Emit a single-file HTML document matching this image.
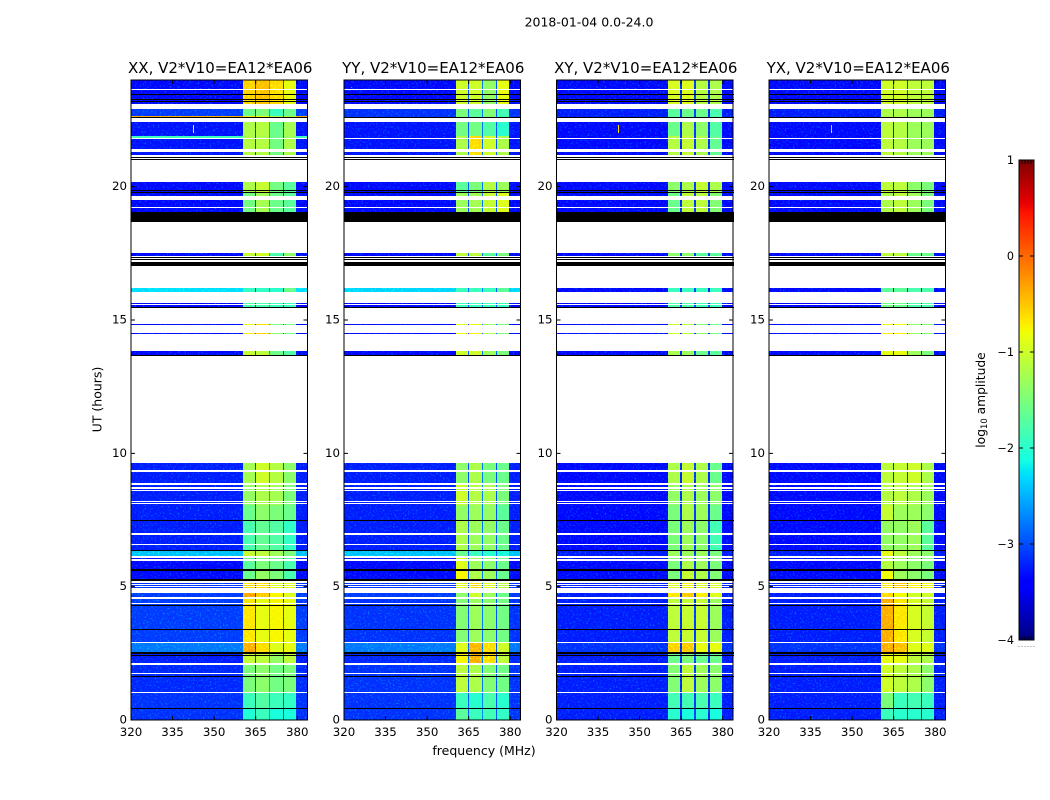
<!DOCTYPE html>
<html lang="en">
<head>
<meta charset="utf-8">
<title>2018-01-04 0.0-24.0</title>
<style>
html,body{margin:0;padding:0;background:#fff;}
#chart{display:block;width:1050px;height:800px;}
text{font-family:"DejaVu Sans","Liberation Sans",sans-serif;fill:#000;}
</style>
</head>
<body>
<svg id="chart" xmlns="http://www.w3.org/2000/svg" width="1050" height="800" viewBox="0 0 1050 800">
  <defs>
    <filter id="speckle" x="0" y="0" width="1" height="1" color-interpolation-filters="sRGB">
      <feTurbulence type="fractalNoise" baseFrequency="0.6" numOctaves="1" seed="7" result="n"/>
      <feColorMatrix in="n" type="matrix" values="0 0 0 0 0  2.6 0 0 0 -1.4  0 0 0 0 0  0 0 0 0 1" result="g"/>
      <feComposite in="SourceGraphic" in2="g" operator="arithmetic" k1="0" k2="1" k3="0.5" k4="0" result="mix"/>
      <feComposite in="mix" in2="SourceAlpha" operator="in"/>
    </filter>
  </defs>
  <text x="589" y="26.5" font-size="12.5" text-anchor="middle">2018-01-04 0.0-24.0</text>
  <text x="484" y="755" font-size="12.5" text-anchor="middle">frequency (MHz)</text>
  <text transform="translate(101.5,399.5) rotate(-90)" font-size="12.5" text-anchor="middle">UT (hours)</text>
  <text transform="translate(985,400) rotate(-90)" font-size="12.3" text-anchor="middle">log<tspan font-size="8.4" dy="2">10</tspan><tspan dy="-2"> amplitude</tspan></text>
  <g id="panels"></g>
  <g id="colorbar"></g>
</svg>
<script>
// ---------- data ----------
const panelTitles = ['XX, V2*V10=EA12*EA06','YY, V2*V10=EA12*EA06','XY, V2*V10=EA12*EA06','YX, V2*V10=EA12*EA06'];
const freqTicks = [320,335,350,365,380];
const utTicks = [0,5,10,15,20];
const colorTicks = [1,0,-1,-2,-3,-4];

// frequency channel groups (MHz): background, four bright sub-bands and the gaps between them
const freqEdges = [320,360.4,364.7,365.2,369.8,370.3,374.8,375.3,379.6,383.7];
// what each group above shows: index into a level row (0-3 sub-band, 4 background) or gap number (5-7)
const freqKinds = [4,0,5,1,6,2,7,3,4];

// UT spans with valid data
const dataSpans = [[0,1.02],[1.06,1.73],[1.77,2.07],[2.12,2.89],[2.94,4.35],[4.39,4.54],[4.61,4.76],[4.95,4.99],[5.03,5.06],[5.10,5.14],[5.21,5.98],[6.02,6.06],[6.15,6.56],[6.6,6.94],[7.0,7.11],[7.14,8.1],[8.14,8.18],[8.21,8.46],[8.49,8.59],[8.63,8.66],[8.72,8.83],[8.89,9.3],[9.38,9.63],[13.66,13.84],[14.48,14.51],[14.81,14.85],[15.45,15.55],[15.6,15.64],[16.04,16.21],[17.4,17.52],[18.69,19.2],[19.24,19.5],[19.65,20.18],[21.19,21.29],[21.42,21.79],[21.84,22.43],[22.58,22.91],[23.1,23.61],[23.66,24]];
// UT spans flagged (drawn black)
const flaggedSpans = [[0.41,0.45],[1.61,1.65],[2.4,2.44],[2.48,2.51],[2.53,2.56],[3.38,3.41],[4.28,4.31],[5.21,5.29],[5.6,5.65],[6.34,6.38],[7.46,7.5],[13.65,13.69],[15.45,15.5],[17.04,17.13],[17.16,17.19],[17.25,17.27],[17.33,17.37],[18.69,19.06],[19.76,19.8],[19.85,19.89],[21.02,21.05],[21.1,21.13],[22.58,22.61],[23.18,23.21],[23.25,23.28],[23.46,23.49]];

// UT zone boundaries for the level tables (30 zones)
const zoneEdges = [0,.45,1.05,2.1,2.55,2.92,4.54,4.76,5.21,5.63,6.15,6.37,7.5,8.06,8.85,9.8,14.2,14.7,15.2,15.8,16.6,17.8,19.75,20.6,21.84,21.9,22.45,22.61,22.65,23,24];

// log10 amplitude per zone: [band A, band B, band C, band D, background]
const levelsXX = [[-2.05,-1.9,-2.1,-2.1,-3.15],[-1.9,-1.75,-1.9,-1.95,-3.15],[-1.5,-1.4,-1.55,-1.5,-3.2],[-1.05,-1.1,-1.35,-1.1,-3.25],[-.35,-.6,-.9,-.85,-2.8],[-.65,-.85,-.75,-.85,-3.1],[-.3,-.5,-.75,-.9,-3.1],[-.6,-.6,-.9,-.9,-3.15],[-1.6,-1.35,-1.5,-1.8,-3.35],[-1.7,-1.5,-1.6,-1.8,-3.35],[-1.05,-1.1,-1.3,-1.5,-2.45],[-1.8,-1.65,-1.75,-1.95,-3.25],[-1.6,-1.4,-1.5,-1.6,-3.25],[-1.35,-1.2,-1.25,-1.5,-3.25],[-1.25,-1,-1.15,-1.4,-3.25],[-1.05,-1.1,-1.6,-1.75,-3.35],[-.6,-.5,-1.4,-1.6,-3.35],[-.8,-.6,-1.5,-1.6,-3.35],[-1.8,-1.8,-1.9,-1.9,-3.45],[-1.95,-1.95,-2,-1.6,-2.3],[-1.05,-1,-1.8,-1.4,-3.35],[-1.55,-1.25,-1.6,-1.7,-3.35],[-1.2,-1.05,-1.55,-1.7,-3.35],[-1.15,-1.15,-1.55,-1.2,-3.3],[-1.2,-1.2,-1.6,-1.3,-1.9],[-1.2,-1.15,-1.6,-1.25,-3.3],[-1.6,-1.5,-1.9,-1.6,-3.1],[-.7,-.8,-1.2,-1.2,-.3],[-1.6,-1.5,-1.9,-1.6,-3.1],[-.55,-.45,-.6,-.85,-3.35]];
const levelsYY = [[-1.7,-1.9,-1.85,-1.95,-3.15],[-1.9,-2,-1.8,-2,-3.15],[-1.1,-1.2,-1.45,-1.55,-3.15],[-.75,-.35,-.6,-1.1,-3.2],[-.9,-.4,-.6,-1,-2.8],[-1.45,-1.3,-1.4,-1.55,-3.15],[-1.4,-1,-1.3,-1.6,-3.1],[-.9,-.6,-.9,-1.1,-3.15],[-.75,-1.2,-1.3,-1.6,-3.35],[-.9,-1.3,-1.4,-1.6,-3.35],[-1.6,-1.9,-2,-2.1,-2.45],[-1.2,-1.3,-1.35,-1.6,-3.25],[-1.35,-1.3,-1.35,-1.7,-3.25],[-1,-1.15,-1.2,-1.5,-3.25],[-1.4,-1.2,-1.5,-1.6,-3.25],[-1,-1,-1.3,-1.5,-3.35],[-.8,-.7,-1.2,-1.5,-3.35],[-.9,-.8,-1.3,-1.5,-3.35],[-1.9,-1.9,-1.9,-1.9,-3.45],[-1.9,-1.9,-1.9,-1.7,-2.35],[-1.1,-1.1,-1.7,-1.5,-3.35],[-1.3,-1.25,-1.05,-.9,-3.35],[-1.7,-1.5,-1.15,-1.3,-3.35],[-1.2,-.6,-1,-1.2,-3.3],[-1.2,-.6,-1,-1.2,-3.3],[-1.55,-1.55,-1.75,-2,-3.3],[-1.5,-1.7,-1.45,-1.85,-3.15],[-1.5,-1.7,-1.45,-1.85,-3.15],[-1.5,-1.7,-1.45,-1.85,-3.15],[-1,-1,-1.35,-.85,-3.35]];
const levelsXY = [[-2,-2.1,-2,-2.1,-3.25],[-1.85,-1.85,-1.8,-1.9,-3.25],[-1.45,-1.1,-1.3,-1.4,-3.25],[-1.6,-1.5,-1.6,-1.6,-3.25],[-.55,-.5,-.85,-.85,-3.15],[-1.1,-1.05,-1.05,-1.3,-3.25],[-.65,-.5,-.7,-.9,-3.25],[-.9,-.75,-.95,-.95,-3.25],[-1.5,-1.05,-1.2,-1.45,-3.35],[-1.5,-1.2,-1.3,-1.5,-3.35],[-1.3,-1.3,-1.3,-1.5,-3.25],[-1.5,-1.3,-1.4,-1.85,-3.35],[-1.5,-1.2,-1.3,-1.6,-3.35],[-1.35,-1.2,-1.3,-1.4,-3.35],[-1.2,-1.05,-1.2,-1.6,-3.35],[-1.2,-1.3,-1.6,-1.7,-3.35],[-1,-1.1,-1.4,-1.6,-3.35],[-1,-1.1,-1.5,-1.6,-3.35],[-1.8,-1.8,-1.9,-1.9,-3.45],[-1.9,-1.9,-1.9,-1.9,-3.35],[-1.4,-1.4,-1.7,-1.7,-3.35],[-1.6,-1.1,-1.1,-1.45,-3.35],[-1.4,-1.2,-1.05,-1.2,-3.35],[-1.15,-1.05,-1.2,-1.65,-3.35],[-1.15,-1.05,-1.2,-1.65,-3.35],[-1.6,-1.2,-1.4,-1.75,-3.35],[-1.7,-1.6,-1.6,-1.8,-3.25],[-1.7,-1.6,-1.6,-1.8,-3.25],[-1.7,-1.6,-1.6,-1.8,-3.25],[-.95,-.9,-1.15,-1.2,-3.35]];
const levelsYX = [[-1.9,-2,-2,-2,-3.25],[-1.5,-1.9,-1.85,-1.9,-3.25],[-1,-1.1,-1.2,-1.4,-3.25],[-.85,-.85,-1.1,-1.2,-3.25],[-.35,-.45,-.9,-.9,-3.15],[-.35,-.65,-.95,-1.05,-3.25],[-.6,-.8,-1,-1,-3.25],[-.7,-.5,-.7,-.8,-3.25],[-.8,-1.3,-1.4,-1.5,-3.35],[-1.15,-1.3,-1.4,-1.5,-3.35],[-.85,-1.1,-1.3,-1.4,-3.25],[-1.35,-1.35,-1.3,-1.7,-3.35],[-1.05,-1.3,-1.3,-1.4,-3.35],[-1.15,-1.1,-1.2,-1.3,-3.35],[-1.1,-1.05,-1,-1.2,-3.35],[-.85,-.85,-1.3,-1.5,-3.35],[-.7,-.7,-1.3,-1.5,-3.35],[-.8,-.8,-1.4,-1.5,-3.35],[-1.6,-1.6,-1.8,-1.8,-3.45],[-1.7,-1.7,-1.8,-1.8,-3.35],[-1.1,-1.1,-1.6,-1.6,-3.35],[-1.2,-1.1,-1.3,-1.5,-3.35],[-1.1,-1.1,-1.4,-1.5,-3.35],[-1.1,-1.15,-1.3,-1.3,-3.35],[-1.1,-1.15,-1.3,-1.3,-3.35],[-1.1,-1.15,-1.3,-1.3,-3.35],[-1.2,-1.2,-1.3,-1.3,-3.25],[-1.2,-1.2,-1.3,-1.3,-3.25],[-1.2,-1.2,-1.3,-1.3,-3.25],[-1,-1,-1.1,-1.1,-3.35]];
const panelLevels = [levelsXX,levelsYY,levelsXY,levelsYX];
// level of the three narrow channels between the bright sub-bands, per panel
const gapLevels = [[-3.1,-2.6,-3],[-3,-2.8,-3],[-3.2,-3.1,-3.2],[-3.2,-3.1,-3.2]];
// short interference bursts: panel index, MHz, UT start, UT end, log10 amplitude
const spikes = [[0,342.3,22.0,22.3,-1],[2,342.3,22.0,22.3,-.6],[3,342.3,22.0,22.3,-.5],[1,322.5,23.7,23.75,.2]];

const colorMin = -4;
const colorMax = 1;

// ---------- scales ----------
const panelLefts = [131,344,556.5,769];
const panelWidth = 176.5;
const plotTop = 80;
const plotBottom = 720;
const utMax = 24;
const freqMin = 320;
const freqMax = 383.7;
const cbLeft = 1019, cbRight = 1034, cbTop = 160, cbBottom = 640;
const NS = 'http://www.w3.org/2000/svg';

function xScale(panelIndex, mhz){ return panelLefts[panelIndex] + (mhz - freqMin) / (freqMax - freqMin) * panelWidth; }
function yScale(ut){ return plotBottom - ut / utMax * (plotBottom - plotTop); }
function cbScale(v){ return cbBottom - (v - colorMin) / (colorMax - colorMin) * (cbBottom - cbTop); }

function ramp(t, pts){
  if (t <= pts[0][0]) return pts[0][1];
  for (let i = 1; i < pts.length; i++) {
    if (t <= pts[i][0]) {
      const a = pts[i-1], b = pts[i];
      return a[1] + (b[1]-a[1]) * (t-a[0]) / (b[0]-a[0]);
    }
  }
  return pts[pts.length-1][1];
}
const jetR = [[0,0],[.35,0],[.66,1],[.89,1],[1,.5]];
const jetG = [[0,0],[.125,0],[.375,1],[.64,1],[.91,0],[1,0]];
const jetB = [[0,.5],[.11,1],[.34,1],[.65,0],[1,0]];
function jet(v){
  const t = Math.max(0, Math.min(1, (v - colorMin) / (colorMax - colorMin)));
  const c = p => Math.round(255 * ramp(t, p));
  return 'rgb(' + c(jetR) + ',' + c(jetG) + ',' + c(jetB) + ')';
}

function el(tag, parent, attrs){
  const e = document.createElementNS(NS, tag);
  for (const k in attrs) e.setAttribute(k, attrs[k]);
  parent.appendChild(e);
  return e;
}

// ---------- panels ----------
const panelsRoot = document.getElementById('panels');
panelTitles.forEach((title, p) => {
  const left = panelLefts[p], right = left + panelWidth;
  const g = el('g', panelsRoot, {});
  
  

  const heat = el('g', g, {filter:'url(#speckle)', 'shape-rendering':'crispEdges'});
  
  
  const levels = panelLevels[p];
  dataSpans.forEach(span => {
    levels.forEach((row, z) => {
      const lo = Math.max(span[0], zoneEdges[z]);
      const hi = Math.min(span[1], zoneEdges[z+1]);
      if (hi <= lo) return;
      const yTop = Math.round(yScale(hi));
      const yBot = Math.max(yTop + 1, Math.round(yScale(lo)));
      freqKinds.forEach((kind, f) => {
        const v = kind >= 5 ? gapLevels[p][kind-5] : row[kind];
        const x0 = Math.round(xScale(p, freqEdges[f]));
        const x1 = Math.round(xScale(p, freqEdges[f+1]));
        const cell = el('rect', heat, {x:x0, y:yTop, width:x1-x0, height:yBot-yTop, fill:jet(v)});
        
        
      });
    });
  });
  spikes.filter(s => s[0] === p).forEach(s => {
    const mark = el('rect', heat, {x:Math.round(xScale(p, s[1])), y:Math.round(yScale(s[3])), width:1, height:Math.max(1,Math.round(yScale(s[2])-yScale(s[3]))), fill:jet(s[4])});
    
    
  });

  const flags = el('g', g, {'shape-rendering':'crispEdges'});
  
  
  flaggedSpans.forEach(s => {
    const yTop = Math.round(yScale(s[1]));
    const yBot = Math.max(yTop + 1, Math.round(yScale(s[0])));
    const bar = el('rect', flags, {x:Math.round(left), y:yTop, width:Math.round(panelWidth), height:yBot-yTop, fill:'#000'});
    
    
  });

  const frame = el('rect', g, {x:left, y:plotTop, width:panelWidth, height:plotBottom-plotTop, fill:'none', stroke:'#000', 'stroke-width':1});
  
  

  const ttl = el('text', g, {x:left+panelWidth/2+1, y:73, 'font-size':15, 'text-anchor':'middle'});
  ttl.textContent = title;
  
  

  freqTicks.forEach(t => {
    const x = xScale(p, t);
    const tick = el('path', g, {d:'M'+x+' '+plotBottom+'v-4M'+x+' '+plotTop+'v4', stroke:'#000', 'stroke-width':1, fill:'none'});
    
    
    const lab = el('text', g, {x:x, y:plotBottom+16, 'font-size':11.8, 'text-anchor':'middle'});
    lab.textContent = t;
    
    
  });
  utTicks.forEach(t => {
    const y = yScale(t);
    const tick = el('path', g, {d:'M'+left+' '+y+'h4M'+right+' '+y+'h-4', stroke:'#000', 'stroke-width':1, fill:'none'});
    
    
    const lab = el('text', g, {x:left-4, y:y+3.5, 'font-size':11.8, 'text-anchor':'end'});
    lab.textContent = t;
    
    
  });
});

// ---------- colorbar ----------
const cb = document.getElementById('colorbar');
const cbRamp = el('g', cb, {'shape-rendering':'crispEdges'});


for (let py = cbTop; py < cbBottom; py++) {
  const v = colorMax - (py + 0.5 - cbTop) / (cbBottom - cbTop) * (colorMax - colorMin);
  el('rect', cbRamp, {x:cbLeft, y:py, width:cbRight-cbLeft, height:1, fill:jet(v)});
}
const cbFrame = el('rect', cb, {x:cbLeft, y:cbTop, width:cbRight-cbLeft, height:cbBottom-cbTop, fill:'none', stroke:'#000', 'stroke-width':1});


colorTicks.forEach(v => {
  const y = cbScale(v);
  const tick = el('path', cb, {d:'M'+cbLeft+' '+y+'h4M'+cbRight+' '+y+'h-4', stroke:'#000', 'stroke-width':1, fill:'none'});
  
  
  const lab = el('text', cb, {x:cbLeft-5, y:y+4, 'font-size':11.2, 'text-anchor':'end'});
  lab.textContent = v < 0 ? '\u2212' + Math.abs(v) : String(v);
  
  
});
const cbMinorFractions = [.2,.4,.6,.8];
cbMinorFractions.forEach(f => {
  const x = cbLeft + f * (cbRight - cbLeft);
  const tick = el('path', cb, {d:'M'+x+' '+cbBottom+'v-4M'+x+' '+cbTop+'v4', stroke:'#000', 'stroke-width':1, fill:'none'});
  
  
});
const cbDotFractions = [0,.2,.4,.6,.8,1];
cbDotFractions.forEach(f => {
  const dot = el('rect', cb, {x:cbLeft + f * (cbRight - cbLeft) - .5, y:646, width:1, height:1, fill:'#888'});
  
  
});
</script>
</body>
</html>
